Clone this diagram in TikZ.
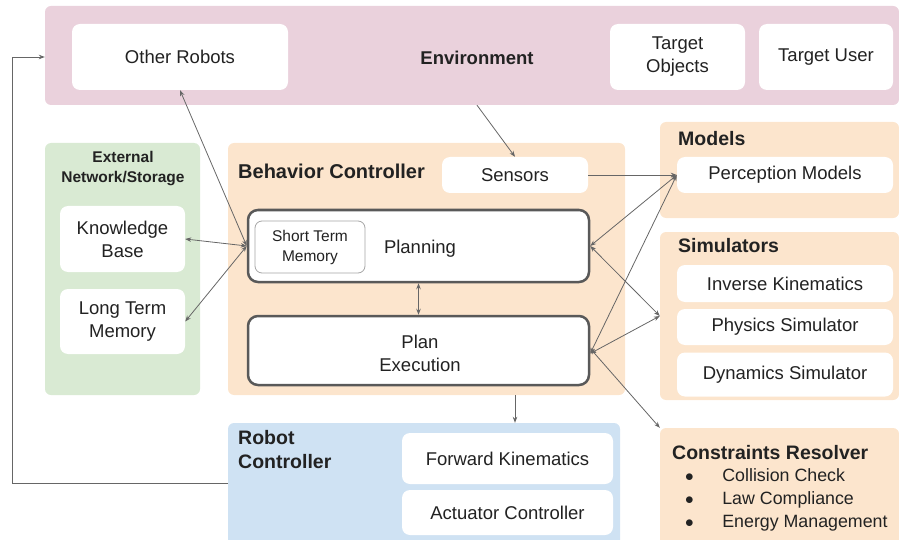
\documentclass[tikz,border=0pt]{standalone}
\usepackage{fontspec}
\setmainfont{Liberation Sans}
\usetikzlibrary{arrows.meta,calc}
\definecolor{envc}{HTML}{EAD1DC}
\definecolor{grnc}{HTML}{D9EAD3}
\definecolor{orgc}{HTML}{FCE5CD}
\definecolor{bluc}{HTML}{CFE2F3}
\definecolor{linec}{HTML}{666666}
\definecolor{txtc}{HTML}{222222}
\definecolor{brdc}{HTML}{595959}
\tikzset{
  grp/.style={fill=#1, draw=none, rounded corners=6pt, inner sep=0pt},
  wbox/.style={fill=white, draw=none, rounded corners=8pt, inner sep=0pt, align=center, text=txtc, font=\fontsize{18.5}{23}\selectfont},
  thbox/.style={fill=white, draw=brdc, line width=2.5pt, rounded corners=10pt, inner sep=0pt, align=center},
  lbl/.style={inner sep=0pt, text=txtc, font=\bfseries\fontsize{19.5}{23}\selectfont, align=left},
  txt/.style={inner sep=0pt, text=txtc, font=\fontsize{18.5}{23}\selectfont, align=center},
  arr/.style={draw=linec, line width=0.8pt, -{Stealth[length=6pt,width=4.5pt]}},
  darr/.style={draw=linec, line width=0.8pt, {Stealth[length=6pt,width=4.5pt]}-{Stealth[length=6pt,width=4.5pt]}}
}
\begin{document}
\begin{tikzpicture}[x=1pt,y=-1pt]
\useasboundingbox (0,0) rectangle (899,540);
% Environment
\node[grp=envc, minimum width=854, minimum height=99] (env) at (472,55.5) {};
\node[wbox, minimum width=216, minimum height=66] (or) at (180,57) {Other Robots};
\node[lbl, font=\bfseries\fontsize{18.5}{23}\selectfont] (envl) at (477,58) {Environment};
\node[wbox, minimum width=135, minimum height=66] (to) at (677.5,57) {Target\\Objects};
\node[wbox, minimum width=134, minimum height=66] (tu) at (826,57) {Target User};
% External
\node[grp=grnc, minimum width=155, minimum height=252] (ext) at (122.5,269) {};
\node[lbl, align=center, font=\bfseries\fontsize{15.5}{20}\selectfont] (extl) at (123,169) {External\\Network/Storage};
\node[wbox, minimum width=125, minimum height=66] (kb) at (122.5,239) {Knowledge\\Base};
\node[wbox, minimum width=125, minimum height=65] (ltm) at (122.5,321.5) {Long Term\\Memory};
% Behavior controller
\node[grp=orgc, minimum width=397, minimum height=252] (bc) at (426.5,269) {};
\node[lbl, anchor=west, font=\bfseries\fontsize{20}{23}\selectfont] (bcl) at (238,171) {Behavior Controller};
\node[wbox, minimum width=146, minimum height=36] (sen) at (515,175) {Sensors};
\node[thbox, minimum width=341, minimum height=72] (pl) at (418.5,246) {};
\node[wbox, draw=gray!70, line width=0.8pt, rounded corners=7pt, minimum width=110, minimum height=52, font=\fontsize{15.5}{20}\selectfont] (stm) at (310,247) {Short Term\\Memory};
\node[txt] (pll) at (420,249) {Planning};
\node[thbox, minimum width=341, minimum height=69] (ex) at (418.5,350.5) {};
\node[txt] (exl) at (420,353) {Plan\\Execution};
% Models
\node[grp=orgc, minimum width=239, minimum height=96] (mod) at (779.5,170) {};
\node[lbl, anchor=west] (modl) at (678,139) {Models};
\node[wbox, minimum width=216, minimum height=36] (pm) at (785,175) {Perception Models};
% Simulators
\node[grp=orgc, minimum width=239, minimum height=168] (sim) at (779.5,316) {};
\node[lbl, anchor=west] (siml) at (678,246) {Simulators};
\node[wbox, minimum width=216, minimum height=37] (ik) at (785,283.5) {Inverse Kinematics};
\node[wbox, minimum width=216, minimum height=36] (ps) at (785,327) {Physics Simulator};
\node[wbox, minimum width=216, minimum height=44] (ds) at (785,374.5) {Dynamics Simulator};
% Constraints resolver
\node[grp=orgc, minimum width=239, minimum height=120] (cr) at (779.5,488) {};
\node[lbl, anchor=west] (crl) at (672,453) {Constraints Resolver};
\node[txt, anchor=west, align=left, font=\fontsize{17.8}{23}\selectfont] (cri) at (685,499.5) {$\bullet$\hspace{28.5pt}Collision Check\\$\bullet$\hspace{28.5pt}Law Compliance\\$\bullet$\hspace{28.5pt}Energy Management};
% Robot controller
\node[grp=bluc, minimum width=392, minimum height=125] (rc) at (424,485.5) {};
\node[lbl, anchor=north west, font=\bfseries\fontsize{19.5}{24}\selectfont] (rcl) at (238,430) {Robot\\Controller};
\node[wbox, minimum width=211, minimum height=51] (fk) at (507.5,458.5) {Forward Kinematics};
\node[wbox, minimum width=211, minimum height=45] (ac) at (507.5,512.5) {Actuator Controller};
% Connectors
\draw[arr] (rc.west |- 0,483) -- (12,483) |- (env.west |- 0,57);
\draw[darr] (or.south) -- (pl.west);
\draw[darr] (kb.east) -- (pl.west);
\draw[darr] (ltm.east) -- (pl.west);
\draw[arr] ([xshift=5pt]env.south) -- (sen.north);
\draw[arr] (sen.east) -- (pm.west);
\draw[darr] (pm.west) -- (pl.east);
\draw[darr] (pm.west) -- ([yshift=-3pt]ex.east);
\draw[darr] (pl.east) -- (sim.west);
\draw[darr] ([yshift=-3pt]ex.east) -- (sim.west);
\draw[darr] ([yshift=2pt]ex.east) -- (cr.north west);
\draw[darr] (pl.south) -- (ex.north);
\draw[arr] (bc.south -| sen) -- (rc.north -| sen);
\end{tikzpicture}
\end{document}
